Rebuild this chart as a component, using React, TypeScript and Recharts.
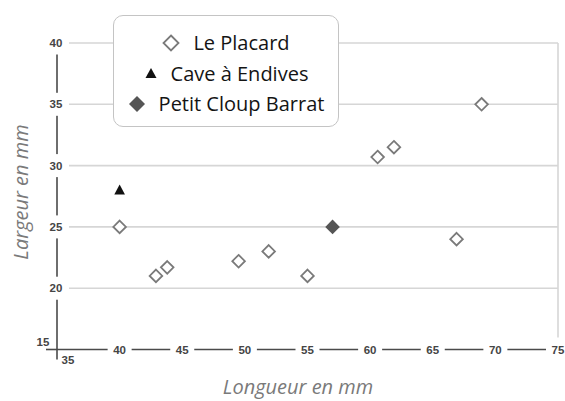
import React from "react";
import { ScatterChart, Scatter, XAxis, YAxis, ReferenceLine, Label } from "recharts";

// ---- data ----
const placardX = [40, 42.9, 43.8, 49.5, 51.9, 55, 60.6, 61.9, 66.9, 68.9];
const placardY = [25, 21, 21.7, 22.2, 23, 21, 30.7, 31.5, 24, 35];
const caveX = [40];
const caveY = [28];
const cloupX = [57];
const cloupY = [25];
const seriesNames = ["Le Placard", "Cave à Endives", "Petit Cloup Barrat"];
const xTicks = [35, 40, 45, 50, 55, 60, 65, 70, 75];
const yTicks = [15, 20, 25, 30, 35, 40];
const gridY = [20, 25, 30, 35, 40];
const xTitle = "Longueur en mm";
const yTitle = "Largeur en mm";

const placardData = placardX.map((x, i) => ({ x, y: placardY[i] }));
const caveData = caveX.map((x, i) => ({ x, y: caveY[i] }));
const cloupData = cloupX.map((x, i) => ({ x, y: cloupY[i] }));

const AXIS = "#4a4a4a";
const GRID = "#d6d6d6";
const TICK_FONT = { fontFamily: "'Liberation Sans', Arial, sans-serif", fontSize: 11.5, fontWeight: 700, fill: "#454545" };
const TITLE_FONT = { fontFamily: "'Open Sans', sans-serif", fontSize: 20, fontStyle: "italic", fill: "#7a7a7a" };

const OpenDiamond = (p: any) => {
  const { cx, cy } = p;
  const s = 6.3;
  return <polygon points={`${cx},${cy - s} ${cx + s},${cy} ${cx},${cy + s} ${cx - s},${cy}`} fill="#fff" stroke="#7a7a7a" strokeWidth={1.8} />;
};
const Triangle = (p: any) => {
  const { cx, cy } = p;
  return <polygon points={`${cx},${cy - 5.5} ${cx + 5.3},${cy + 4.5} ${cx - 5.3},${cy + 4.5}`} fill="#111" />;
};
const FilledDiamond = (p: any) => {
  const { cx, cy } = p;
  const s = 7.3;
  return <polygon points={`${cx},${cy - s} ${cx + s},${cy} ${cx},${cy + s} ${cx - s},${cy}`} fill="#555" />;
};

const YTick = (props: any) => {
  const { x, y, payload } = props;
  const v = payload.value;
  if (v === yTicks[0]) {
    return (
      <g>
        <line x1={x} y1={y} x2={x} y2={y + 10} stroke={AXIS} strokeWidth={1.6} />
        <text x={x - 14} y={y - 8} textAnchor="middle" dominantBaseline="central" {...TICK_FONT}>{v}</text>
      </g>
    );
  }
  return (
    <g>
      <rect x={x - 11} y={y - 11.5} width={22} height={23} fill="#fff" />
      <text x={x - 1} y={y} textAnchor="middle" dominantBaseline="central" {...TICK_FONT}>{v}</text>
    </g>
  );
};

const XTick = (props: any) => {
  const { x, y, payload } = props;
  const v = payload.value;
  if (v === xTicks[0]) {
    return (
      <g>
        <line x1={x - 11} y1={y} x2={x} y2={y} stroke={AXIS} strokeWidth={1.6} />
        <text x={x + 11} y={y + 10} textAnchor="middle" dominantBaseline="central" {...TICK_FONT}>{v}</text>
      </g>
    );
  }
  return (
    <g>
      <rect x={x - 12} y={y - 8} width={24} height={16} fill="#fff" />
      <text x={x} y={y} textAnchor="middle" dominantBaseline="central" {...TICK_FONT}>{v}</text>
    </g>
  );
};

const HGrid = (p: any) => {
  const xa = Math.min(p.x1, p.x2);
  const xb = Math.max(p.x1, p.x2);
  return <line x1={xa + 12} y1={p.y1} x2={xb} y2={p.y2} stroke={GRID} strokeWidth={1.6} />;
};
const VGrid = (p: any) => {
  const ya = Math.min(p.y1, p.y2);
  const yb = Math.max(p.y1, p.y2);
  return <line x1={p.x1} y1={ya} x2={p.x2} y2={yb - 12} stroke={GRID} strokeWidth={1.6} />;
};

const XTitle = (p: any) => {
  const vb = p.viewBox;
  return <text x={vb.x + 241} y={vb.y + 44} textAnchor="middle" {...TITLE_FONT}>{xTitle}</text>;
};
const YTitle = (p: any) => {
  const vb = p.viewBox;
  const cx = vb.x + vb.width - 37;
  const cy = vb.y + 149;
  return (
    <text x={cx} y={cy} textAnchor="middle" dominantBaseline="central" transform={`rotate(-90 ${cx} ${cy})`} {...TITLE_FONT}>{yTitle}</text>
  );
};

const legendSymbols = [
  <svg width={18} height={18} key="a"><polygon points="9,1.5 16.5,9 9,16.5 1.5,9" fill="#fff" stroke="#7a7a7a" strokeWidth={1.8} /></svg>,
  <svg width={14} height={14} key="b"><polygon points="7,2 12.5,12 1.5,12" fill="#111" /></svg>,
  <svg width={18} height={18} key="c"><polygon points="9,1 17,9 9,17 1,9" fill="#555" /></svg>,
];

export default function App() {
  return (
    <div style={{ position: "absolute", left: 0, top: 0, width: 565, height: 401, background: "#fff" }}>
      <ScatterChart width={565} height={401} margin={{ top: 43, right: 7, bottom: 50.5, left: 56 }}>
        <XAxis
          type="number"
          dataKey="x"
          domain={[35, 75]}
          ticks={xTicks}
          interval={0}
          tickSize={0}
          tickMargin={0}
          tickLine={false}
          height={1}
          axisLine={{ stroke: AXIS, strokeWidth: 1.6 }}
          tick={<XTick />}
        >
          <Label content={<XTitle />} />
        </XAxis>
        <YAxis
          type="number"
          dataKey="y"
          domain={[15, 40]}
          ticks={yTicks}
          interval={0}
          tickSize={0}
          tickMargin={0}
          tickLine={false}
          width={1}
          axisLine={{ stroke: AXIS, strokeWidth: 1.6 }}
          tick={<YTick />}
        >
          <Label content={<YTitle />} />
        </YAxis>
        {gridY.map((v) => (
          <ReferenceLine key={v} y={v} ifOverflow="visible" shape={HGrid} />
        ))}
        <ReferenceLine x={xTicks[xTicks.length - 1]} ifOverflow="visible" shape={VGrid} />
        <Scatter name={seriesNames[0]} data={placardData} shape={OpenDiamond} isAnimationActive={false} />
        <Scatter name={seriesNames[1]} data={caveData} shape={Triangle} isAnimationActive={false} />
        <Scatter name={seriesNames[2]} data={cloupData} shape={FilledDiamond} isAnimationActive={false} />
      </ScatterChart>
      <div
        style={{
          position: "absolute",
          left: 113,
          top: 15,
          width: 224,
          height: 110,
          border: "1px solid #c4c4c4",
          borderRadius: 10,
          background: "#fff",
          boxSizing: "content-box",
        }}
      >
        <div style={{ paddingTop: 11.5 }}>
          {seriesNames.map((n, i) => (
            <div
              key={n}
              style={{
                height: 30.5,
                display: "flex",
                alignItems: "center",
                justifyContent: "center",
                gap: 13,
                fontFamily: "'Open Sans', sans-serif",
                fontSize: 20,
                fontWeight: 500,
                color: "#141414",
              }}
            >
              {legendSymbols[i]}
              <span>{n}</span>
            </div>
          ))}
        </div>
      </div>
    </div>
  );
}
